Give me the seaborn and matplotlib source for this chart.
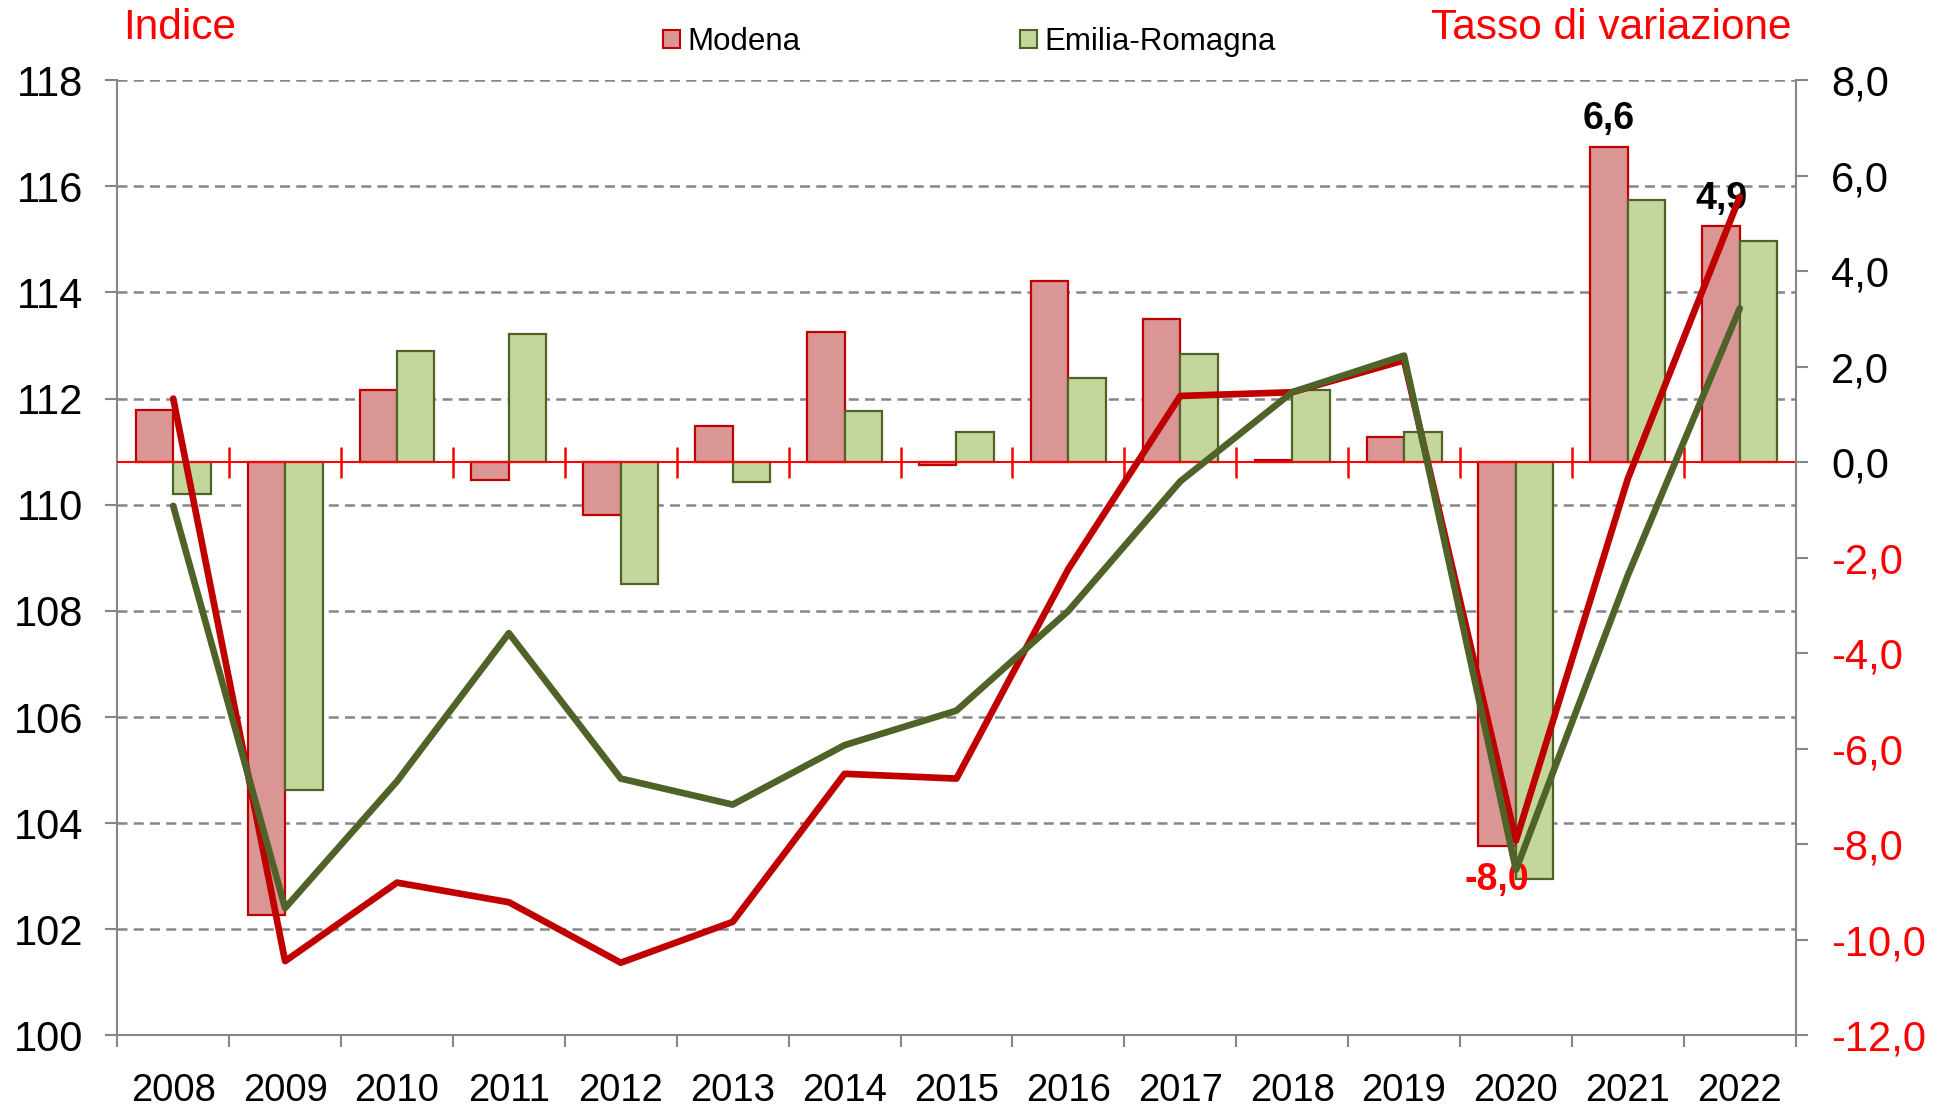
import numpy as np
import pandas as pd
import matplotlib.pyplot as plt
from matplotlib.patches import Patch
import seaborn as sns

# data
years = list(range(2008, 2023))
regions = ['Modena', 'Emilia-Romagna']

# tasso di variazione (bars, right axis)
modena_var = [1.10, -9.47, 1.51, -0.37, -1.10, 0.76, 2.73, -0.06, 3.79, 3.01, 0.04, 0.53, -8.03, 6.60, 4.94]
er_var = [-0.66, -6.86, 2.34, 2.68, -2.54, -0.42, 1.08, 0.64, 1.77, 2.26, 1.51, 0.64, -8.72, 5.49, 4.64]

# indice (lines, left axis)
modena_idx = [112.0, 101.4, 102.88, 102.51, 101.37, 102.14, 104.93, 104.84, 108.79, 112.05, 112.12, 112.72, 103.67, 110.49, 115.8]
er_idx = [109.98, 102.4, 104.79, 107.58, 104.84, 104.35, 105.47, 106.12, 108.0, 110.44, 112.12, 112.81, 103.12, 108.67, 113.7]

# which Modena bars get a value label
labelled_up = [2021, 2022]
labelled_down = [2020]

bar_fill = {'Modena': '#D99694', 'Emilia-Romagna': '#C3D69B'}
bar_edge = {'Modena': '#C00000', 'Emilia-Romagna': '#4F6228'}
line_col = {'Modena': '#C00000', 'Emilia-Romagna': '#4F6228'}
gray = '#868686'


def fmt_it(v):
    return '{:.1f}'.format(v).replace('.', ',')


def main():
    sns.set_theme(style='white')
    plt.rcParams['font.family'] = ['Liberation Sans', 'DejaVu Sans']
    plt.rcParams['text.color'] = 'black'
    plt.rcParams['xtick.labelcolor'] = 'black'
    plt.rcParams['ytick.labelcolor'] = 'black'

    df = pd.DataFrame({
        'anno': years * 2,
        'area': ['Modena'] * len(years) + ['Emilia-Romagna'] * len(years),
        'var': modena_var + er_var,
        'idx': modena_idx + er_idx,
    })

    fig, ax = plt.subplots(figsize=(19.35, 11.06), dpi=100)
    fig.subplots_adjust(left=0.0606, right=0.928, bottom=0.0638, top=0.9275)

    ax_bar = ax.twinx()
    ax_line = ax.twinx()

    # bars: growth rates
    sns.barplot(data=df, x='anno', y='var', hue='area', hue_order=regions,
                palette=bar_fill, native_scale=True, width=0.67, saturation=1,
                errorbar=None, legend=False, ax=ax_bar)
    for cont, area in zip(ax_bar.containers, regions):
        for p in cont:
            p.set_edgecolor(bar_edge[area])
            p.set_linewidth(1.6)

    # value labels on Modena bars
    mod_cont = ax_bar.containers[0]
    up = [fmt_it(v) if y in labelled_up else '' for y, v in zip(years, modena_var)]
    down = [fmt_it(v) if y in labelled_down else '' for y, v in zip(years, modena_var)]
    ax_bar.bar_label(mod_cont, labels=up, padding=7, fontsize=27,
                     fontweight='bold', color='black')
    ax_bar.bar_label(mod_cont, labels=down, padding=12, fontsize=27,
                     fontweight='bold', color='red')

    # zero line with its crossing ticks
    ax_bar.axhline(0, color='red', lw=1.5, zorder=1)
    bounds = np.array(years) + 0.5
    ax_bar.vlines(bounds, -0.32, 0.32, color='red', lw=1.8)

    ax_bar.set_ylim(-12, 8)
    rticks = np.arange(-12, 9, 2)
    ax_bar.set_yticks(rticks)
    ax_bar.set_yticklabels([fmt_it(t) for t in rticks])
    for lab, t in zip(ax_bar.get_yticklabels(), rticks):
        lab.set_color('red' if t < 0 else 'black')
    ax_bar.tick_params(axis='y', which='major', right=True, length=8.5, width=1.5,
                       color=gray, pad=17, labelsize=30)
    ax_bar.set_ylabel('')
    ax_bar.set_xlabel('')
    for s in ['top', 'left', 'bottom']:
        ax_bar.spines[s].set_visible(False)
    ax_bar.spines['right'].set_color(gray)
    ax_bar.spines['right'].set_linewidth(1.5)

    # lines: index
    sns.lineplot(data=df, x='anno', y='idx', hue='area', hue_order=regions,
                 palette=line_col, linewidth=4.8, legend=False, ax=ax_line)
    ax_line.set_ylim(100, 118)
    ax_line.set_yticks([])
    ax_line.set_ylabel('')
    ax_line.set_xlabel('')
    for s in ax_line.spines.values():
        s.set_visible(False)

    # base axis: left scale, grid, year labels
    ax.set_ylim(100, 118)
    ax.set_yticks(np.arange(100, 119, 2))
    ax.yaxis.grid(True, color=gray, ls=(0, (4, 2.5)), lw=1.8)
    ax.xaxis.grid(False)
    ax.tick_params(axis='y', left=True, length=8.5, width=1.5, color=gray,
                   pad=16, labelsize=30)
    ax.set_xlim(years[0] - 0.5, years[-1] + 0.5)
    ax.set_xticks(np.arange(years[0] - 0.5, years[-1] + 1, 1))
    ax.set_xticklabels([])
    ax.set_xticks(years, minor=True)
    ax.set_xticklabels([str(y) for y in years], minor=True)
    ax.tick_params(axis='x', which='major', bottom=True, length=8.5, width=1.5,
                   color=gray)
    ax.tick_params(axis='x', which='minor', bottom=False, length=0, pad=27,
                   labelsize=27.5)
    for s in ['top', 'right']:
        ax.spines[s].set_visible(False)
    for s in ['left', 'bottom']:
        ax.spines[s].set_color(gray)
        ax.spines[s].set_linewidth(1.5)

    # titles and legend
    fig.text(0.0636, 0.9745, 'Indice', color='red', fontsize=30.5,
             ha='left', va='center')
    fig.text(0.926, 0.9745, 'Tasso di variazione', color='red', fontsize=30.5,
             ha='right', va='center')
    handles = [Patch(facecolor=bar_fill[a], edgecolor=bar_edge[a], lw=1.5)
               for a in regions]
    fig.legend(handles, regions, loc='center left', bbox_to_anchor=(0.3425, 0.962),
               ncol=2, frameon=False, fontsize=22.5, handlelength=0.55,
               handleheight=0.55, handletextpad=0.25, columnspacing=7.0,
               borderpad=0, borderaxespad=0)

    fig.savefig('out.png', dpi=100)


if __name__ == '__main__':
    main()
